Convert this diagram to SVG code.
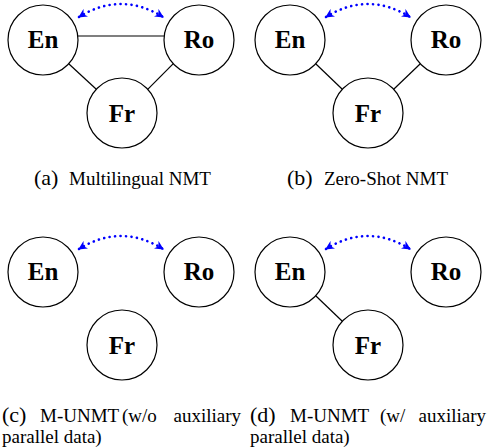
<svg xmlns="http://www.w3.org/2000/svg" width="490" height="448" viewBox="0 0 490 448">
<defs>
<marker id="ah" viewBox="0 0 10 10" refX="9" refY="5" markerWidth="9" markerHeight="9" markerUnits="userSpaceOnUse" orient="auto-start-reverse">
<path d="M0,0 L10,5 L0,10 L3,5 Z" fill="#0000ff"/>
</marker>
<style>
.node circle{fill:#fff;stroke:#000;stroke-width:1.2}
.node text{font-family:"Liberation Serif",serif;font-weight:bold;font-size:25px;text-anchor:middle;fill:#000}
.edge{stroke:#000;stroke-width:1.2;fill:none}
.dot{stroke:#0000ff;stroke-width:2.6;fill:none;stroke-dasharray:0.1 5.4;stroke-linecap:round}
.lbl{font-family:"Liberation Serif",serif;font-size:22px;fill:#000}
.cap{font-family:"Liberation Serif",serif;font-size:19px;fill:#000}
</style>
</defs>
<rect width="490" height="448" fill="#fff"/>

<g id="connectors">
<line class="edge" x1="77.8" y1="36" x2="164.2" y2="36"/>
<line class="edge" x1="68.7" y1="63.7" x2="96.3" y2="89.3"/>
<line class="edge" x1="173.3" y1="63.7" x2="147.7" y2="89.3"/>
<path class="dot" d="M79,17 Q121,-9 163,17" marker-start="url(#ah)" marker-end="url(#ah)"/>
<line class="edge" x1="315.7" y1="63.7" x2="342.3" y2="89.3"/>
<line class="edge" x1="420.3" y1="63.7" x2="393.7" y2="89.3"/>
<path class="dot" d="M326,17 Q368,-9 410,17" marker-start="url(#ah)" marker-end="url(#ah)"/>
<path class="dot" d="M79,249 Q121,223 163,249" marker-start="url(#ah)" marker-end="url(#ah)"/>
<line class="edge" x1="315.7" y1="295.7" x2="342.3" y2="321.3"/>
<path class="dot" d="M326,249 Q368,223 410,249" marker-start="url(#ah)" marker-end="url(#ah)"/>
</g>

<g id="a-en" class="node"><circle cx="43" cy="40" r="35"/><text x="43" y="48" font-family="Liberation Serif, serif">En</text></g>
<g id="a-ro" class="node"><circle cx="199" cy="40" r="35"/><text x="199" y="48" font-family="Liberation Serif, serif">Ro</text></g>
<g id="a-fr" class="node"><circle cx="122" cy="113" r="35"/><text x="122" y="122" font-family="Liberation Serif, serif">Fr</text></g>

<g id="b-en" class="node"><circle cx="290" cy="40" r="35"/><text x="290" y="48" font-family="Liberation Serif, serif">En</text></g>
<g id="b-ro" class="node"><circle cx="446" cy="40" r="35"/><text x="446" y="48" font-family="Liberation Serif, serif">Ro</text></g>
<g id="b-fr" class="node"><circle cx="368" cy="113" r="35"/><text x="368" y="122" font-family="Liberation Serif, serif">Fr</text></g>

<g id="c-en" class="node"><circle cx="43" cy="272" r="35"/><text x="43" y="280" font-family="Liberation Serif, serif">En</text></g>
<g id="c-ro" class="node"><circle cx="199" cy="272" r="35"/><text x="199" y="280" font-family="Liberation Serif, serif">Ro</text></g>
<g id="c-fr" class="node"><circle cx="122" cy="345" r="35"/><text x="122" y="354" font-family="Liberation Serif, serif">Fr</text></g>

<g id="d-en" class="node"><circle cx="290" cy="272" r="35"/><text x="290" y="280" font-family="Liberation Serif, serif">En</text></g>
<g id="d-ro" class="node"><circle cx="446" cy="272" r="35"/><text x="446" y="280" font-family="Liberation Serif, serif">Ro</text></g>
<g id="d-fr" class="node"><circle cx="368" cy="345" r="35"/><text x="368" y="354" font-family="Liberation Serif, serif">Fr</text></g>

<g id="captions">
<text class="lbl" x="34" y="185" font-family="Liberation Serif, serif">(a)</text>
<text class="cap" x="69" y="185" font-family="Liberation Serif, serif">Multilingual NMT</text>
<text class="lbl" x="287" y="185" font-family="Liberation Serif, serif">(b)</text>
<text class="cap" x="324" y="185" font-family="Liberation Serif, serif">Zero-Shot NMT</text>

<text class="lbl" x="2" y="422" font-family="Liberation Serif, serif">(c)</text>
<text class="cap" x="40" y="422" font-family="Liberation Serif, serif">M-UNMT</text>
<text class="cap" x="122" y="422" font-family="Liberation Serif, serif">(w/o</text>
<text class="cap" x="241" y="422" text-anchor="end" font-family="Liberation Serif, serif">auxiliary</text>
<text class="cap" x="2" y="443" font-family="Liberation Serif, serif">parallel data)</text>

<text class="lbl" x="250" y="422" font-family="Liberation Serif, serif">(d)</text>
<text class="cap" x="290" y="422" font-family="Liberation Serif, serif">M-UNMT</text>
<text class="cap" x="380" y="422" font-family="Liberation Serif, serif">(w/</text>
<text class="cap" x="486" y="422" text-anchor="end" font-family="Liberation Serif, serif">auxiliary</text>
<text class="cap" x="250" y="443" font-family="Liberation Serif, serif">parallel data)</text>
</g>
</svg>
